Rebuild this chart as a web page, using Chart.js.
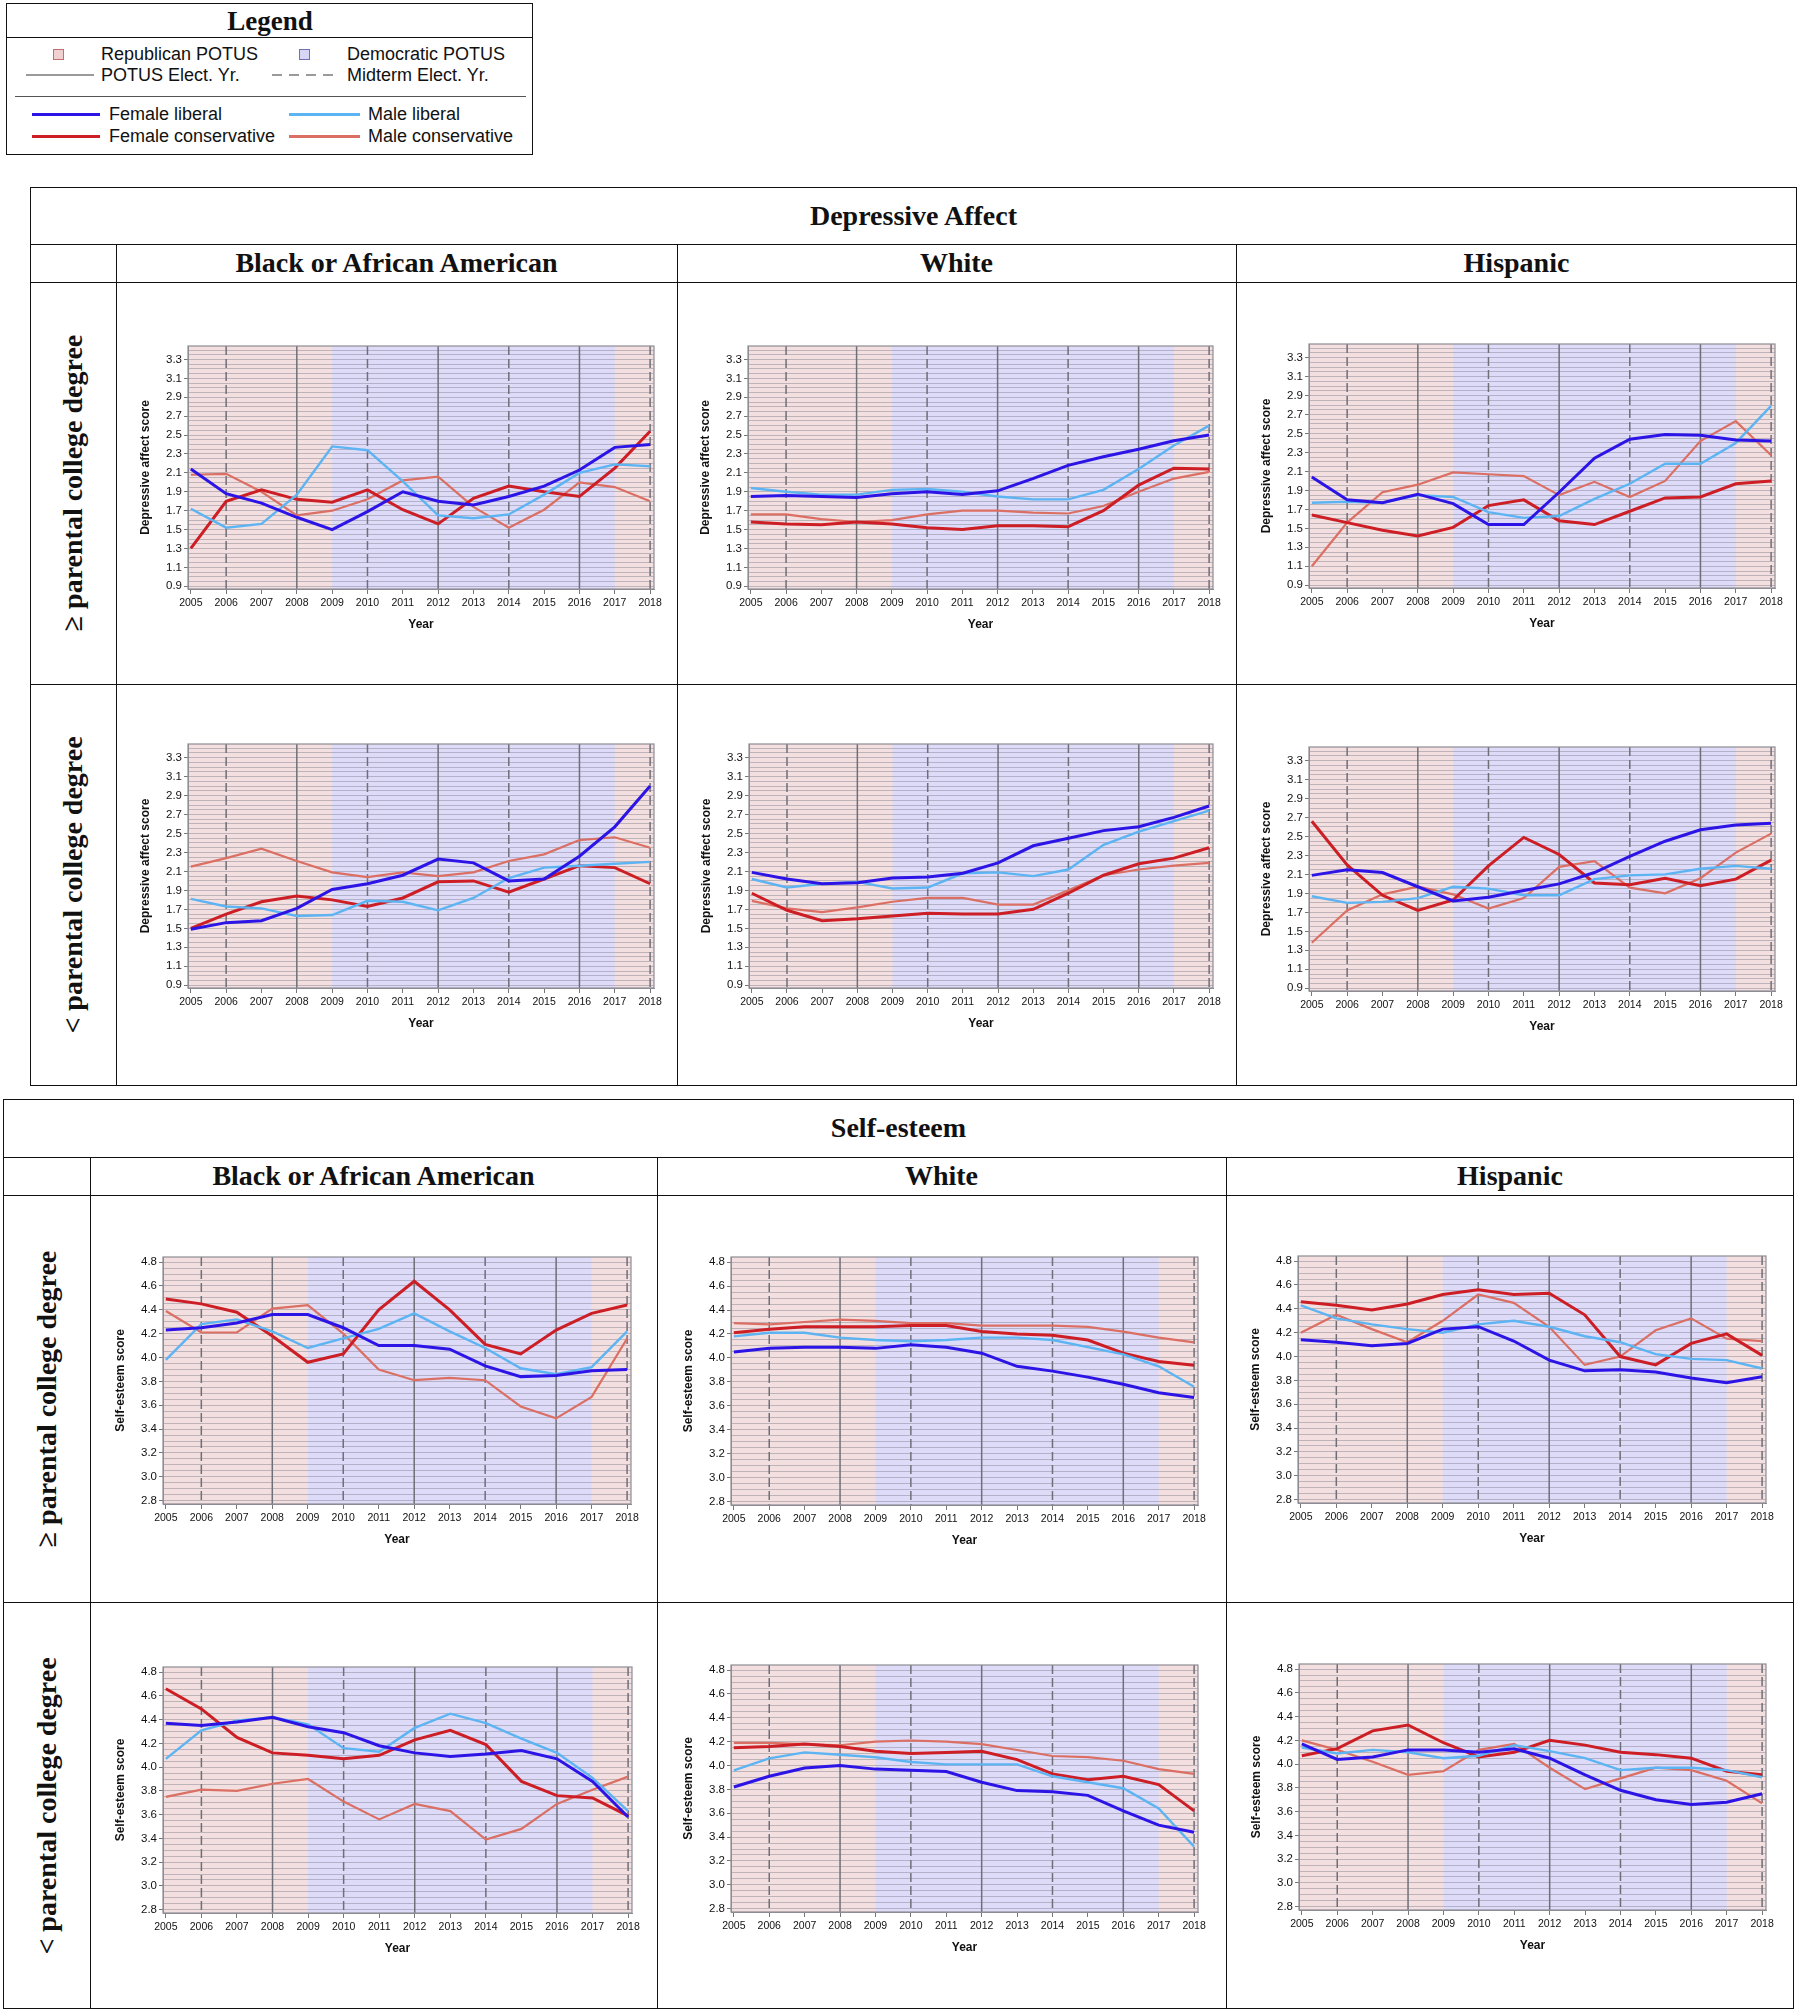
<!DOCTYPE html>
<html>
<head>
<meta charset="utf-8">
<script src="https://cdn.jsdelivr.net/npm/chart.js@4.4.1/dist/chart.umd.min.js"></script>
<style>
  body { margin: 0; width: 1800px; height: 2013px; background: #fff; position: relative; overflow: hidden;
         font-family: "Liberation Sans", Arial, sans-serif; color: #111; }
  .abs { position: absolute; }
  .box { position: absolute; border: 1.5px solid #111; box-sizing: border-box; }
  .hl { position: absolute; height: 0; border-top: 1.5px solid #111; }
  .vl { position: absolute; width: 0; border-left: 1.5px solid #111; }
  .hdr { position: absolute; font-family: "Liberation Serif", "Times New Roman", serif; font-weight: bold;
         font-size: 28px; transform: translate(-50%, -50%); white-space: nowrap; }
  .rowlab { font-size: 28px; transform: translate(-50%, -50%) rotate(-90deg); }
  .lg { position: absolute; font-size: 18px; transform: translateY(-50%); white-space: nowrap; }
  canvas { display: block; }
</style>
</head>
<body>
<script>
// ---- data ----
const years = [2005, 2006, 2007, 2008, 2009, 2010, 2011, 2012, 2013, 2014, 2015, 2016, 2017, 2018];
const depTicks = [0.9, 1.1, 1.3, 1.5, 1.7, 1.9, 2.1, 2.3, 2.5, 2.7, 2.9, 3.1, 3.3];
const seTicks = [2.8, 3.0, 3.2, 3.4, 3.6, 3.8, 4.0, 4.2, 4.4, 4.6, 4.8];
const potusYears = [2008, 2012, 2016];
const midtermYears = [2006, 2010, 2014, 2018];
const demTerm = [2009, 2017];

// Depressive affect, >= parental college degree
const depBlackHiFL = [2.14, 1.88, 1.78, 1.63, 1.50, 1.69, 1.90, 1.80, 1.76, 1.85, 1.96, 2.13, 2.37, 2.40];
const depBlackHiML = [1.72, 1.52, 1.56, 1.87, 2.38, 2.34, 2.01, 1.65, 1.62, 1.66, 1.87, 2.10, 2.19, 2.17];
const depBlackHiFC = [1.30, 1.80, 1.92, 1.82, 1.79, 1.92, 1.71, 1.56, 1.83, 1.96, 1.90, 1.85, 2.15, 2.54];
const depBlackHiMC = [2.08, 2.09, 1.90, 1.65, 1.70, 1.82, 2.02, 2.06, 1.74, 1.52, 1.71, 2.00, 1.95, 1.80];

const depWhiteHiFL = [1.85, 1.86, 1.85, 1.84, 1.88, 1.90, 1.87, 1.91, 2.04, 2.18, 2.27, 2.35, 2.44, 2.50];
const depWhiteHiML = [1.94, 1.90, 1.87, 1.87, 1.92, 1.93, 1.90, 1.85, 1.82, 1.82, 1.92, 2.14, 2.39, 2.60];
const depWhiteHiFC = [1.58, 1.56, 1.55, 1.58, 1.56, 1.52, 1.50, 1.54, 1.54, 1.53, 1.70, 1.97, 2.15, 2.14];
const depWhiteHiMC = [1.66, 1.66, 1.61, 1.58, 1.60, 1.66, 1.70, 1.70, 1.68, 1.67, 1.75, 1.90, 2.04, 2.11];

const depHispHiFL = [2.04, 1.80, 1.77, 1.86, 1.76, 1.54, 1.54, 1.88, 2.24, 2.44, 2.49, 2.48, 2.43, 2.42];
const depHispHiML = [1.77, 1.78, 1.77, 1.85, 1.83, 1.67, 1.61, 1.63, 1.81, 1.97, 2.18, 2.18, 2.40, 2.79];
const depHispHiFC = [1.64, 1.56, 1.48, 1.42, 1.51, 1.74, 1.80, 1.58, 1.54, 1.68, 1.82, 1.83, 1.97, 2.00];
const depHispHiMC = [1.10, 1.56, 1.88, 1.96, 2.09, 2.07, 2.05, 1.85, 1.99, 1.83, 2.00, 2.42, 2.63, 2.27];

// Depressive affect, < parental college degree
const depBlackLoFL = [1.49, 1.56, 1.58, 1.71, 1.91, 1.97, 2.06, 2.23, 2.19, 2.00, 2.02, 2.26, 2.57, 3.00];
const depBlackLoML = [1.81, 1.73, 1.71, 1.63, 1.64, 1.79, 1.78, 1.69, 1.82, 2.03, 2.14, 2.16, 2.18, 2.20];
const depBlackLoFC = [1.50, 1.65, 1.78, 1.84, 1.80, 1.73, 1.82, 1.99, 2.00, 1.88, 2.02, 2.16, 2.14, 1.97];
const depBlackLoMC = [2.15, 2.24, 2.34, 2.21, 2.09, 2.04, 2.09, 2.05, 2.09, 2.21, 2.28, 2.43, 2.46, 2.35];

const depWhiteLoFL = [2.09, 2.02, 1.97, 1.98, 2.03, 2.04, 2.08, 2.19, 2.37, 2.45, 2.53, 2.57, 2.67, 2.79];
const depWhiteLoML = [2.02, 1.93, 1.97, 1.99, 1.92, 1.93, 2.08, 2.09, 2.05, 2.12, 2.38, 2.52, 2.63, 2.74];
const depWhiteLoFC = [1.87, 1.69, 1.58, 1.60, 1.63, 1.66, 1.65, 1.65, 1.70, 1.87, 2.06, 2.18, 2.24, 2.35];
const depWhiteLoMC = [1.79, 1.71, 1.67, 1.72, 1.78, 1.82, 1.82, 1.75, 1.75, 1.90, 2.06, 2.12, 2.16, 2.19];

const depHispLoFL = [2.09, 2.15, 2.12, 1.97, 1.82, 1.86, 1.93, 2.00, 2.12, 2.29, 2.45, 2.57, 2.62, 2.64];
const depHispLoML = [1.87, 1.80, 1.81, 1.85, 1.97, 1.95, 1.88, 1.88, 2.05, 2.09, 2.10, 2.16, 2.19, 2.16];
const depHispLoFC = [2.66, 2.20, 1.88, 1.72, 1.83, 2.19, 2.49, 2.31, 2.01, 1.99, 2.06, 1.98, 2.05, 2.25];
const depHispLoMC = [1.38, 1.72, 1.89, 1.97, 1.89, 1.74, 1.85, 2.18, 2.24, 1.96, 1.90, 2.06, 2.33, 2.53];

// Self-esteem, >= parental college degree
const seBlackHiFL = [4.23, 4.25, 4.29, 4.36, 4.36, 4.25, 4.10, 4.10, 4.07, 3.93, 3.84, 3.85, 3.89, 3.90];
const seBlackHiML = [3.98, 4.28, 4.32, 4.22, 4.08, 4.16, 4.24, 4.37, 4.22, 4.08, 3.91, 3.86, 3.92, 4.22];
const seBlackHiFC = [4.49, 4.45, 4.38, 4.18, 3.96, 4.03, 4.40, 4.64, 4.40, 4.11, 4.03, 4.23, 4.37, 4.44];
const seBlackHiMC = [4.39, 4.21, 4.21, 4.41, 4.44, 4.20, 3.90, 3.81, 3.83, 3.81, 3.59, 3.49, 3.67, 4.16];

const seWhiteHiFL = [4.05, 4.08, 4.09, 4.09, 4.08, 4.11, 4.09, 4.04, 3.93, 3.89, 3.84, 3.78, 3.71, 3.67];
const seWhiteHiML = [4.18, 4.21, 4.21, 4.17, 4.15, 4.14, 4.15, 4.17, 4.17, 4.15, 4.09, 4.03, 3.93, 3.76];
const seWhiteHiFC = [4.21, 4.24, 4.26, 4.26, 4.26, 4.27, 4.27, 4.22, 4.20, 4.19, 4.15, 4.04, 3.97, 3.94];
const seWhiteHiMC = [4.29, 4.28, 4.30, 4.32, 4.31, 4.29, 4.29, 4.27, 4.27, 4.27, 4.26, 4.22, 4.17, 4.13];

const seHispHiFL = [4.14, 4.12, 4.09, 4.11, 4.23, 4.25, 4.13, 3.97, 3.88, 3.89, 3.87, 3.82, 3.78, 3.83];
const seHispHiML = [4.43, 4.32, 4.27, 4.23, 4.20, 4.27, 4.30, 4.25, 4.17, 4.12, 4.02, 3.98, 3.97, 3.90];
const seHispHiFC = [4.46, 4.43, 4.39, 4.44, 4.52, 4.56, 4.52, 4.53, 4.35, 4.00, 3.93, 4.11, 4.19, 4.01];
const seHispHiMC = [4.20, 4.35, 4.23, 4.12, 4.30, 4.52, 4.45, 4.25, 3.93, 4.00, 4.22, 4.32, 4.15, 4.13];

// Self-esteem, < parental college degree
const seBlackLoFL = [4.37, 4.35, 4.38, 4.42, 4.34, 4.29, 4.18, 4.12, 4.09, 4.11, 4.14, 4.07, 3.88, 3.58];
const seBlackLoML = [4.07, 4.31, 4.39, 4.42, 4.36, 4.16, 4.13, 4.33, 4.45, 4.37, 4.24, 4.12, 3.91, 3.63];
const seBlackLoFC = [4.66, 4.49, 4.25, 4.12, 4.10, 4.07, 4.10, 4.23, 4.31, 4.19, 3.88, 3.76, 3.74, 3.59];
const seBlackLoMC = [3.75, 3.81, 3.80, 3.86, 3.90, 3.71, 3.56, 3.69, 3.63, 3.39, 3.48, 3.69, 3.81, 3.92];

const seWhiteLoFL = [3.82, 3.91, 3.98, 4.00, 3.97, 3.96, 3.95, 3.86, 3.79, 3.78, 3.75, 3.62, 3.50, 3.44];
const seWhiteLoML = [3.96, 4.06, 4.11, 4.09, 4.07, 4.03, 4.01, 4.01, 4.01, 3.91, 3.86, 3.81, 3.64, 3.32];
const seWhiteLoFC = [4.15, 4.16, 4.18, 4.16, 4.12, 4.10, 4.11, 4.12, 4.05, 3.93, 3.88, 3.91, 3.84, 3.62];
const seWhiteLoMC = [4.19, 4.19, 4.18, 4.17, 4.20, 4.21, 4.20, 4.18, 4.13, 4.08, 4.07, 4.04, 3.97, 3.93];

const seHispLoFL = [4.17, 4.04, 4.06, 4.12, 4.12, 4.10, 4.13, 4.05, 3.91, 3.78, 3.70, 3.66, 3.68, 3.75];
const seHispLoML = [4.14, 4.09, 4.12, 4.10, 4.05, 4.07, 4.16, 4.11, 4.05, 3.95, 3.97, 3.97, 3.95, 3.89];
const seHispLoFC = [4.07, 4.13, 4.28, 4.33, 4.18, 4.06, 4.10, 4.20, 4.16, 4.10, 4.08, 4.05, 3.94, 3.91];
const seHispLoMC = [4.20, 4.12, 4.02, 3.91, 3.94, 4.12, 4.17, 3.97, 3.79, 3.88, 3.97, 3.95, 3.86, 3.67];

// ---- styles ----
const repColor = '#f3dfdf';
const demColor = '#dddbf8';
const seriesStyle = [
  { label: 'Female liberal', color: '#2c14e6', width: 3.0 },
  { label: 'Male liberal', color: '#5db4f3', width: 2.4 },
  { label: 'Female conservative', color: '#cc1e24', width: 3.0 },
  { label: 'Male conservative', color: '#db6f63', width: 2.2 }
];

// plot rectangles [left, top, right, bottom] in page pixels
const panels = [
  { kind: 'dep', plot: [188, 346, 654, 589], series: [depBlackHiFL, depBlackHiML, depBlackHiFC, depBlackHiMC] },
  { kind: 'dep', plot: [748, 346, 1213, 589], series: [depWhiteHiFL, depWhiteHiML, depWhiteHiFC, depWhiteHiMC] },
  { kind: 'dep', plot: [1309, 344, 1775, 588], series: [depHispHiFL, depHispHiML, depHispHiFC, depHispHiMC] },
  { kind: 'dep', plot: [188, 744, 654, 988], series: [depBlackLoFL, depBlackLoML, depBlackLoFC, depBlackLoMC] },
  { kind: 'dep', plot: [749, 744, 1213, 988], series: [depWhiteLoFL, depWhiteLoML, depWhiteLoFC, depWhiteLoMC] },
  { kind: 'dep', plot: [1309, 747, 1775, 991], series: [depHispLoFL, depHispLoML, depHispLoFC, depHispLoMC] },
  { kind: 'se', plot: [163, 1257, 631, 1504], series: [seBlackHiFL, seBlackHiML, seBlackHiFC, seBlackHiMC] },
  { kind: 'se', plot: [731, 1257, 1198, 1505], series: [seWhiteHiFL, seWhiteHiML, seWhiteHiFC, seWhiteHiMC] },
  { kind: 'se', plot: [1298, 1256, 1766, 1503], series: [seHispHiFL, seHispHiML, seHispHiFC, seHispHiMC] },
  { kind: 'se', plot: [163, 1667, 632, 1913], series: [seBlackLoFL, seBlackLoML, seBlackLoFC, seBlackLoMC] },
  { kind: 'se', plot: [731, 1665, 1198, 1912], series: [seWhiteLoFL, seWhiteLoML, seWhiteLoFC, seWhiteLoMC] },
  { kind: 'se', plot: [1299, 1664, 1766, 1910], series: [seHispLoFL, seHispLoML, seHispLoFC, seHispLoMC] }
];

const tables = [
  { title: 'Depressive Affect', box: [30, 187, 1797, 1086], titleBottom: 244, headBottom: 282, rowSplit: 684, colX: [116, 677, 1236] },
  { title: 'Self-esteem', box: [3, 1099, 1794, 2009], titleBottom: 1157, headBottom: 1195, rowSplit: 1602, colX: [90, 657, 1226] }
];
const races = ['Black or African American', 'White', 'Hispanic'];
const eduLabels = ['\u2265 parental college degree', '< parental college degree'];

// ---- html helpers ----
function el(cls, css, text) {
  const d = document.createElement('div');
  d.className = cls;
  d.style.cssText = css;
  if (text) d.textContent = text;
  document.body.appendChild(d);
  return d;
}

// legend box
el('box', 'left:6px;top:3px;width:527px;height:152px;');
el('hdr', 'left:270px;top:21px;font-size:27px;', 'Legend');
el('hl', 'left:6px;top:37px;width:527px;border-top-width:1px;');
el('abs', 'left:53px;top:49px;width:9px;height:9px;background:#f0d0d0;border:1px solid #c07070;');
el('lg', 'left:101px;top:54px;', 'Republican POTUS');
el('abs', 'left:299px;top:49px;width:9px;height:9px;background:#d8d6f6;border:1px solid #7070b8;');
el('lg', 'left:347px;top:54px;', 'Democratic POTUS');
el('abs', 'left:26px;top:74px;width:68px;height:1.5px;background:#9a9a9a;');
el('lg', 'left:101px;top:75px;', 'POTUS Elect. Yr.');
el('abs', 'left:272px;top:74px;width:64px;height:1.5px;background:repeating-linear-gradient(to right,#9a9a9a 0 10px,transparent 10px 17px);');
el('lg', 'left:347px;top:75px;', 'Midterm Elect. Yr.');
el('abs', 'left:15px;top:96px;width:511px;border-top:1px solid #555;');
seriesStyle.forEach((s, i) => {
  const col = i % 2, row = Math.floor(i / 2);
  const y = row === 0 ? 114 : 136;
  const x0 = col === 0 ? 32 : 289, x1 = col === 0 ? 100 : 360, tx = col === 0 ? 109 : 368;
  el('abs', `left:${x0}px;top:${y - 1}px;width:${x1 - x0}px;height:3px;background:${s.color};`);
  el('lg', `left:${tx}px;top:${y}px;`, s.label);
});

// table frames
tables.forEach(t => {
  const [l, tp, r, b] = t.box;
  el('box', `left:${l}px;top:${tp}px;width:${r - l}px;height:${b - tp}px;`);
  el('hl', `left:${l}px;top:${t.titleBottom}px;width:${r - l}px;`);
  el('hl', `left:${l}px;top:${t.headBottom}px;width:${r - l}px;`);
  el('hl', `left:${l}px;top:${t.rowSplit}px;width:${r - l}px;`);
  t.colX.forEach(x => el('vl', `left:${x}px;top:${t.titleBottom}px;height:${b - t.titleBottom}px;`));
  el('hdr', `left:${(l + r) / 2}px;top:${(tp + t.titleBottom) / 2}px;`, t.title);
  const edges = [...t.colX, r];
  races.forEach((name, i) => {
    el('hdr', `left:${(edges[i] + edges[i + 1]) / 2}px;top:${(t.titleBottom + t.headBottom) / 2}px;`, name);
  });
  const rowMid = [(t.headBottom + t.rowSplit) / 2, (t.rowSplit + b) / 2];
  eduLabels.forEach((name, i) => {
    el('hdr rowlab', `left:${(l + t.colX[0]) / 2}px;top:${rowMid[i]}px;`, name);
  });
});

// ---- charts ----
Chart.defaults.font.family = '"Liberation Sans", Arial, sans-serif';
Chart.defaults.color = '#111';

const framePlugin = {
  id: 'frame',
  beforeDraw(chart) {
    const { ctx, chartArea: a, scales: { x } } = chart;
    ctx.save();
    ctx.fillStyle = repColor;
    ctx.fillRect(a.left, a.top, a.width, a.height);
    const d0 = x.getPixelForValue(demTerm[0]), d1 = x.getPixelForValue(demTerm[1]);
    ctx.fillStyle = demColor;
    ctx.fillRect(d0, a.top, d1 - d0, a.height);
    ctx.restore();
  },
  beforeDatasetsDraw(chart) {
    const { ctx, chartArea: a, scales: { x } } = chart;
    ctx.save();
    ctx.strokeStyle = '#6f6f78';
    ctx.lineWidth = 1.5;
    const vline = yr => {
      const px = x.getPixelForValue(yr);
      ctx.beginPath();
      ctx.moveTo(px, a.top);
      ctx.lineTo(px, a.bottom);
      ctx.stroke();
    };
    potusYears.forEach(vline);
    ctx.setLineDash([9, 4]);
    midtermYears.forEach(vline);
    ctx.setLineDash([]);
    ctx.strokeStyle = '#8c8c94';
    ctx.lineWidth = 1.2;
    ctx.strokeRect(a.left, a.top, a.width, a.height);
    ctx.restore();
  }
};

function buildChart(p) {
  const isDep = p.kind === 'dep';
  const yW = 54, xH = 47, padT = 8, padR = 18;
  const [l, t, r, b] = p.plot;
  const wrap = el('abs', `left:${l - yW}px;top:${t - padT}px;`);
  const cv = document.createElement('canvas');
  cv.width = r - l + yW + padR;
  cv.height = b - t + padT + xH;
  wrap.appendChild(cv);

  const labelTicks = isDep ? depTicks : seTicks;
  const gridStart = labelTicks[0], gridEnd = isDep ? 3.4 : 4.8;
  const gridVals = [];
  for (let k = 0; gridStart + k * 0.05 <= gridEnd + 1e-9; k++) gridVals.push(+(gridStart + k * 0.05).toFixed(2));
  const isLabel = v => labelTicks.some(tv => Math.abs(tv - v) < 1e-6);

  new Chart(cv, {
    type: 'line',
    data: {
      datasets: p.series.map((arr, i) => ({
        label: seriesStyle[i].label,
        data: years.map((yr, j) => ({ x: yr, y: arr[j] })),
        borderColor: seriesStyle[i].color,
        borderWidth: seriesStyle[i].width,
        pointRadius: 0,
        tension: 0,
        fill: false
      }))
    },
    options: {
      responsive: false,
      animation: false,
      events: [],
      layout: { padding: { top: padT, right: padR, left: 0, bottom: 0 } },
      plugins: { legend: { display: false }, tooltip: { enabled: false } },
      scales: {
        x: {
          type: 'linear',
          min: 2004.92,
          max: 2018.11,
          afterBuildTicks: ax => { ax.ticks = years.map(v => ({ value: v })); },
          afterFit: ax => { ax.height = xH; ax.paddingLeft = 0; ax.paddingRight = 0; },
          ticks: { autoSkip: false, maxRotation: 0, minRotation: 0, padding: 3, color: '#111',
                   font: { size: 10.5 }, callback: v => String(v) },
          grid: { drawOnChartArea: false, drawTicks: true, tickLength: 5, tickColor: '#777' },
          border: { display: true, color: '#8c8c94' },
          title: { display: true, text: 'Year', color: '#111', font: { size: 12, weight: 'bold' },
                   padding: { top: 2, bottom: 4 } }
        },
        y: {
          type: 'linear',
          min: isDep ? 0.871 : 2.772,
          max: isDep ? 3.443 : 4.843,
          afterBuildTicks: ax => { ax.ticks = gridVals.map(v => ({ value: v })); },
          afterFit: ax => { ax.width = yW; ax.paddingTop = 0; ax.paddingBottom = 0; },
          ticks: { autoSkip: false, padding: 2, color: '#111', font: { size: 11.5 },
                   callback: v => isLabel(v) ? v.toFixed(1) : '' },
          grid: { color: 'rgba(120,120,135,0.42)', lineWidth: 1, drawTicks: true, tickLength: 4,
                  tickColor: ctx => (ctx.tick && isLabel(ctx.tick.value)) ? '#777' : 'rgba(0,0,0,0)' },
          border: { display: true, color: '#8c8c94' },
          title: { display: true, text: isDep ? 'Depressive affect score' : 'Self-esteem score', color: '#111',
                   font: { size: 12, weight: 'bold' }, padding: { top: 4, bottom: 4 } }
        }
      }
    },
    plugins: [framePlugin]
  });
}

panels.forEach(buildChart);
</script>
</body>
</html>
